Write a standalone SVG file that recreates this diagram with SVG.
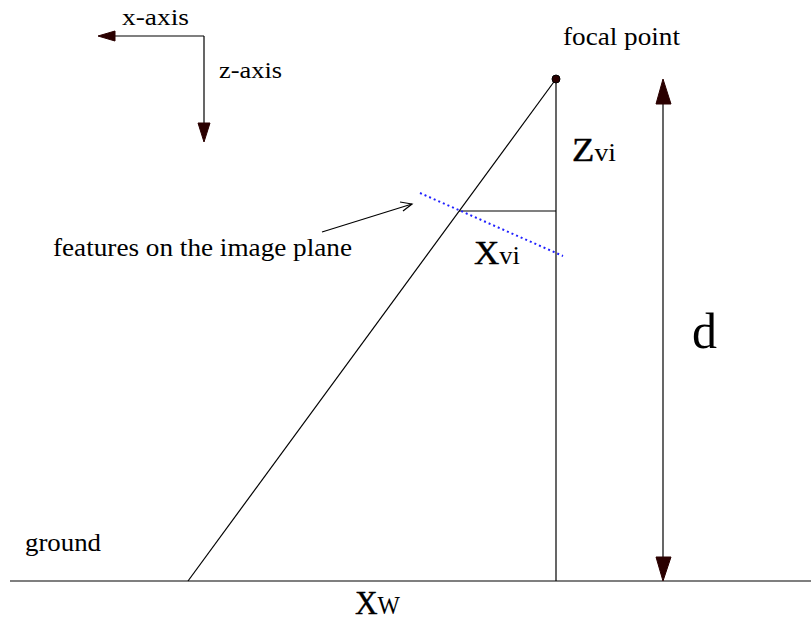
<svg xmlns="http://www.w3.org/2000/svg" width="811" height="623" viewBox="0 0 811 623">
<defs>
<style>
.ln{stroke:#000;stroke-width:1.2;fill:none}
.t{font-family:"Liberation Serif","Times New Roman",serif;fill:#000}
.big{font-size:33px;stroke:#000;stroke-width:0.4}
.sub{font-size:25px}
.ah{fill:#2a0000;stroke:#2a0000;stroke-width:1}
</style>
</defs>
<rect width="811" height="623" fill="#fff"/>
<g id="connectors">
<line class="ln" x1="10" y1="581" x2="811" y2="581" stroke="#333"/>
<line class="ln" x1="188" y1="581" x2="556" y2="79"/>
<line class="ln" x1="556" y1="79" x2="556" y2="581"/>
<line class="ln" x1="459" y1="211" x2="556" y2="211"/>
<line x1="420" y1="193" x2="563" y2="256" stroke="#2020ff" stroke-width="2" stroke-dasharray="2,3"/>
<line class="ln" x1="322" y1="232" x2="412" y2="204"/>
<polyline class="ln" points="400,202 412,204 403,211"/>
<line class="ln" x1="204" y1="36" x2="114" y2="36"/>
<polygon class="ah" points="98,36 115,31 115,41"/>
<line class="ln" x1="204" y1="36" x2="204" y2="124"/>
<polygon class="ah" points="204,142 198,123 210,123"/>
<line class="ln" x1="663" y1="100" x2="663" y2="560"/>
<polygon class="ah" points="663,79 656,104 671,104"/>
<polygon class="ah" points="663,581 656,557 671,557"/>
</g>
<g id="focal-point">
<circle cx="556" cy="79" r="4" fill="#2a0000" stroke="#000" stroke-width="1"/>
<text class="t" x="563" y="45" font-size="25" textLength="117" lengthAdjust="spacingAndGlyphs">focal point</text>
</g>
<g id="axes-labels">
<text class="t" x="122" y="25" font-size="24" textLength="67" lengthAdjust="spacingAndGlyphs">x-axis</text>
<text class="t" x="219" y="78" font-size="24" textLength="63" lengthAdjust="spacingAndGlyphs">z-axis</text>
</g>
<g id="features-label">
<text class="t" x="53" y="256" font-size="25" textLength="299" lengthAdjust="spacingAndGlyphs">features on the image plane</text>
</g>
<g id="zvi">
<text class="t" x="572" y="161" textLength="44" lengthAdjust="spacingAndGlyphs"><tspan class="big">Z</tspan><tspan class="sub">vi</tspan></text>
</g>
<g id="xvi">
<text class="t" x="474" y="264" textLength="46" lengthAdjust="spacingAndGlyphs"><tspan class="big">X</tspan><tspan class="sub">vi</tspan></text>
</g>
<g id="d-label">
<text class="t" x="692" y="348" font-size="50">d</text>
</g>
<g id="ground">
<text class="t" x="25" y="551" font-size="25" textLength="76" lengthAdjust="spacingAndGlyphs">ground</text>
</g>
<g id="xw">
<text class="t" x="355" y="614" textLength="45" lengthAdjust="spacingAndGlyphs"><tspan class="big" font-size="30">X</tspan><tspan class="sub" font-size="23">W</tspan></text>
</g>
</svg>
